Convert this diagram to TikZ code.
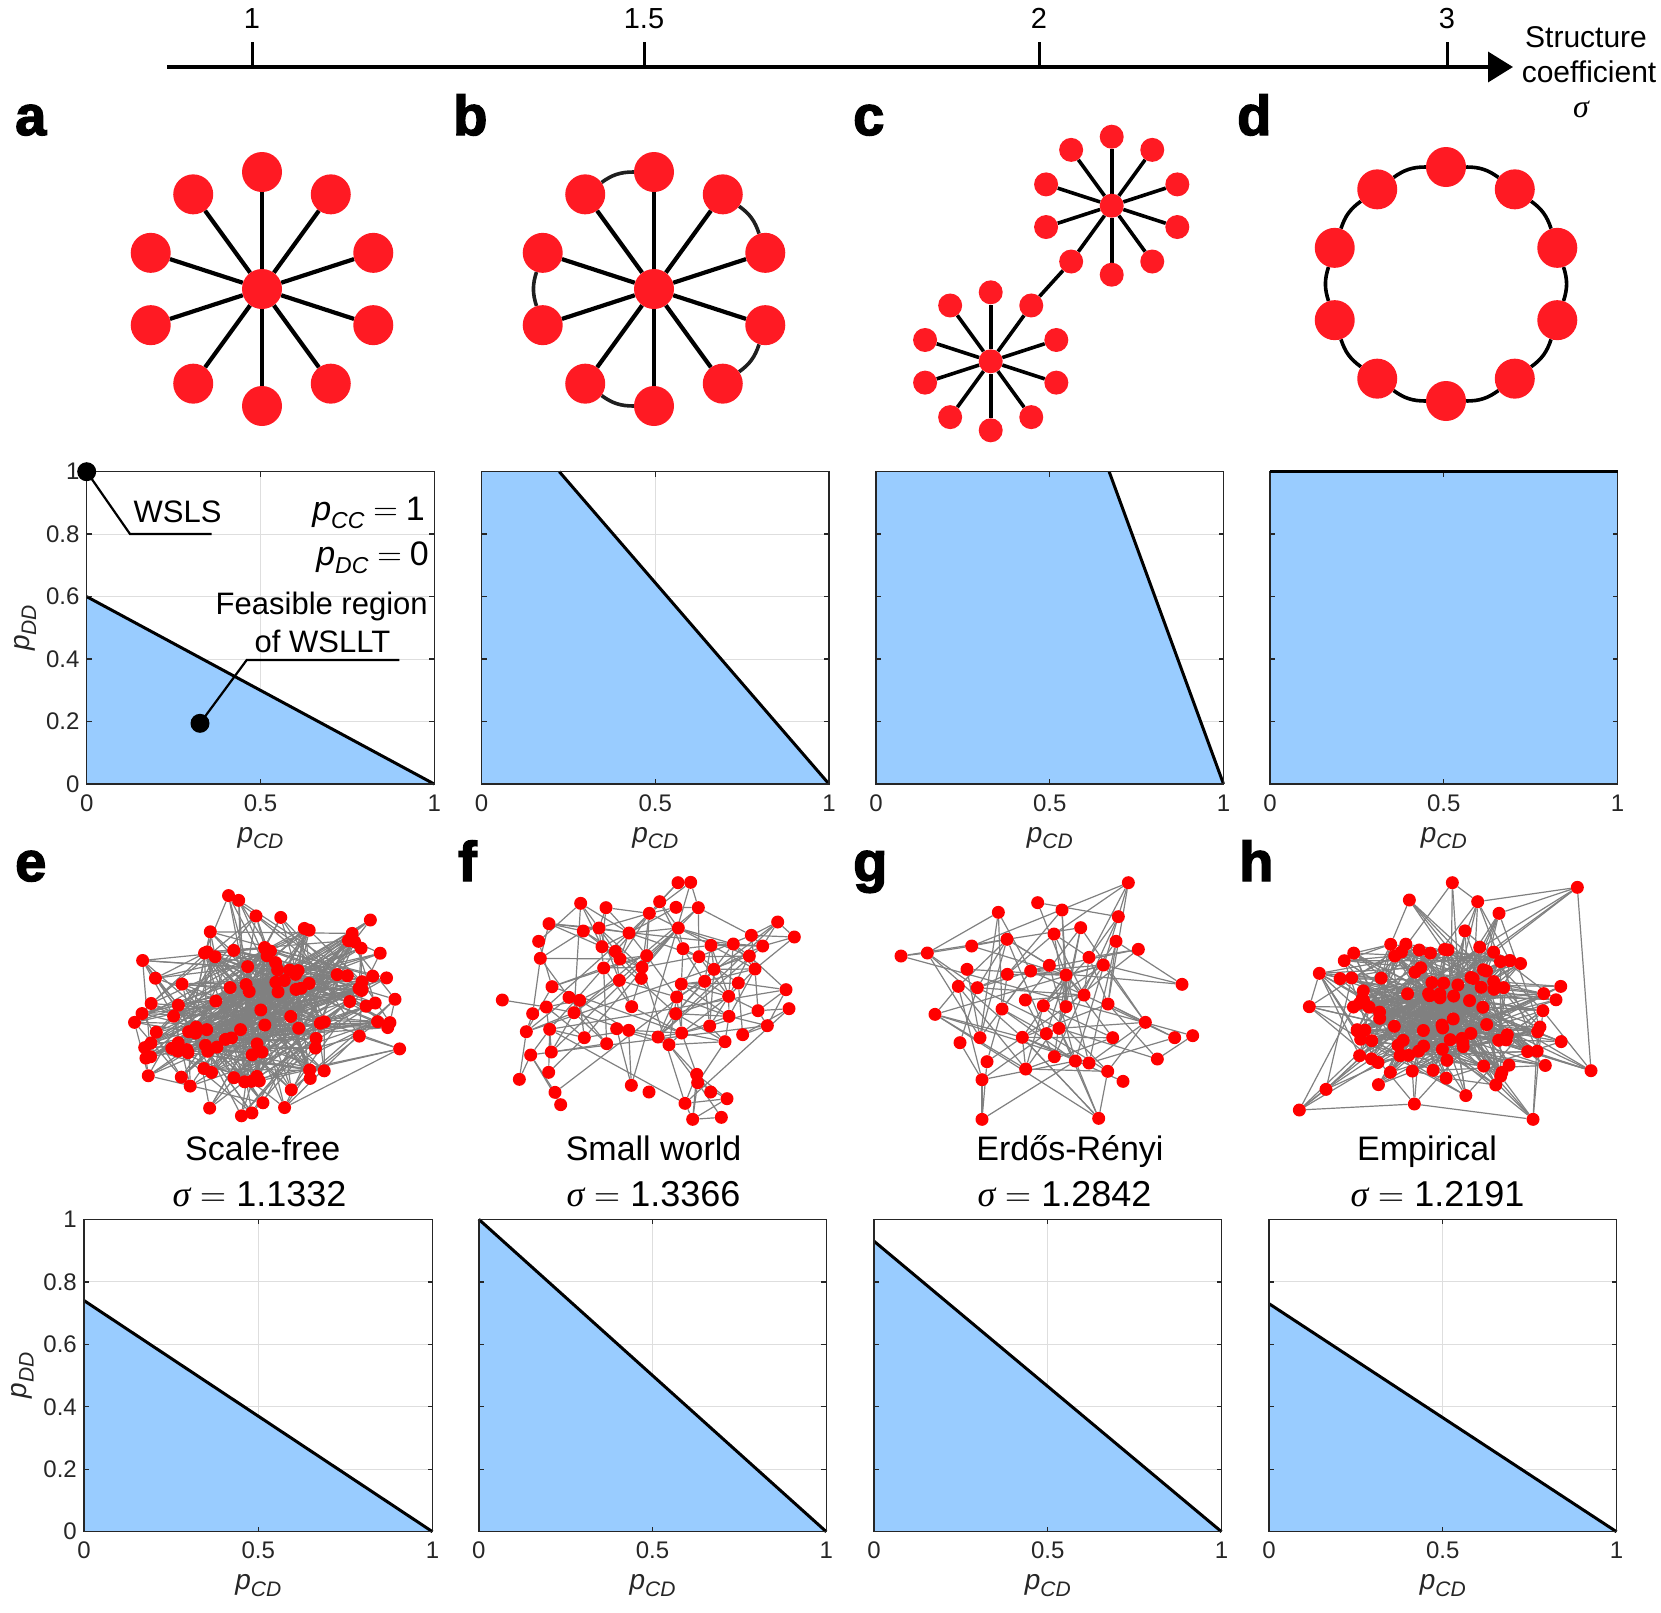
\documentclass[tikz,border=0pt]{standalone}
\usepackage{fontspec}
\setmainfont{Liberation Sans}
\newfontfamily\serifit{Liberation Serif}
\newfontfamily\lmrm{Latin Modern Roman}
\newfontfamily\heavyfont{Liberation Sans Bold}[FakeBold=2.5]
\usetikzlibrary{arrows.meta}
\pgfdeclarelayer{bg}
\pgfsetlayers{bg,main}
\definecolor{topred}{RGB}{255,26,35}
\definecolor{netred}{RGB}{255,0,0}
\definecolor{fillblue}{RGB}{153,204,255}
\definecolor{axgray}{RGB}{38,38,38}
\definecolor{gridgray}{RGB}{222,222,222}
\definecolor{edgegray}{RGB}{128,128,128}
\newcommand\fsz[1]{\fontsize{#1}{#1}\selectfont}
\newcommand\psub[4]{{\fsz{#1}\itshape p\raisebox{-#3pt}{\fsz{#2}#4}}}
\newcommand\eqsign[1]{{\lmrm\fsz{#1}=}}
\newcommand\sig{{\serifit\itshape σ}}
\tikzset{
  bigdot/.style={circle, fill=topred, inner sep=0pt, minimum size=40pt},
  smalldot/.style={circle, fill=topred, inner sep=0pt, minimum size=24pt},
  netdot/.style={circle, fill=netred, inner sep=0pt, minimum size=13pt},
  spoke/.style={line width=4.2pt, black},
  spokec/.style={line width=3.6pt, black},
  ringedge/.style={line width=3.6pt, black!88},
  nedge/.style={line width=1.2pt, edgegray},
  gridc/.style={line width=1.1pt, gridgray},
  framec/.style={line width=1.4pt, axgray},
  fline/.style={line width=3pt, black},
  lead/.style={line width=2.2pt, black},
  bdot/.style={circle, fill=black, inner sep=0pt, minimum size=19pt},
  panel/.style={font=\fsz{56}\heavyfont, inner sep=0pt, anchor=base west},
  lab/.style={inner sep=0pt, anchor=base},
  ticklab/.style={font=\fsz{24}, text=axgray, inner sep=0pt},
}
% ---------- plot helpers ----------
\newcommand\gridlines{%
  \draw[gridc] (0.5,0) -- (0.5,1);
  \foreach \v in {0.2,0.4,0.6,0.8} \draw[gridc] (0,\v) -- (1,\v);}
\newcommand\frameticks{%
  \draw[framec] (0,0) rectangle (1,1);
  \foreach \v in {0.2,0.4,0.6,0.8}{\draw[framec] (0,\v) -- ++(5pt,0pt); \draw[framec] (1,\v) -- ++(-5pt,0pt);}
  \draw[framec] (0.5,0) -- ++(0pt,5pt); \draw[framec] (0.5,1) -- ++(0pt,-5pt);}
\newcommand\xticklabels[1]{\foreach \v [count=\n] in {0,0.5,1} \node[ticklab] (#1x\n) at ([yshift=-19pt]\v,0) {\v};}
\newcommand\yticklabels[1]{\foreach \v [count=\n] in {0,0.2,0.4,0.6,0.8,1} \node[ticklab,anchor=east] (#1y\n) at ([xshift=-7pt]0,\v) {\v};}
\newcommand\xlab[1]{\node[lab,text=axgray] (#1xl) at ([yshift=-58pt]0.5,0) {\psub{28}{21}{6.5}{CD}};}
\newcommand\ylab[1]{\node[lab,rotate=90,text=axgray] (#1yl) at ([xshift=-57pt]0,0.5) {\psub{28}{21}{6.5}{DD}};}
% ---------- network helpers ----------
\newcommand\starnet[6]{%
  \node[#5] (#1c) at (#2,#3) {};
  \foreach \k in {0,...,9} \node[#5] (#1\k) at ([shift={({90-36*\k}:#4pt)}]#2,#3) {};
  \begin{pgfonlayer}{bg}
  \foreach \k in {0,...,9} \draw[#6] (#1c) -- (#1\k);
  \end{pgfonlayer}}
\newcommand\loadnet[4]{%
  \foreach \zx/\zy [count=\n] in {#4}{%
    \pgfmathsetmacro\px{#2+\zx/3}\pgfmathsetmacro\py{#3+\zy/3}%
    \expandafter\xdef\csname #1x\n\endcsname{\px}%
    \expandafter\xdef\csname #1y\n\endcsname{\py}%
    \expandafter\xdef\csname #1N\endcsname{\n}%
    \node[netdot] (#1\n) at (\px,\py) {};}}
\newcommand\distedges[4]{%
  \edef\NN{\csname #1N\endcsname}%
  \begin{pgfonlayer}{bg}
  \foreach \i in {1,...,\NN}{%
    \foreach \j in {\i,...,\NN}{%
      \ifnum\j>\i
        \edef\xa{\csname #1x\i\endcsname}\edef\ya{\csname #1y\i\endcsname}%
        \edef\xb{\csname #1x\j\endcsname}\edef\yb{\csname #1y\j\endcsname}%
        \pgfmathsetmacro\dd{veclen((\xa-\xb)/100,(\ya-\yb)/100)*100}%
        \pgfmathsetmacro\ok{rnd<(\dd<#2?#3:#4)}%
        \ifdim\ok pt>0.5pt
          \draw[nedge] (#1\i) -- (#1\j);%
        \fi
      \fi}}
  \end{pgfonlayer}}
\newcommand\crossedges[6]{%
  \begin{pgfonlayer}{bg}
  \foreach \i in {1,...,#2}{%
    \foreach \j in {1,...,#4}{%
      \edef\xa{\csname #1x\i\endcsname}\edef\ya{\csname #1y\i\endcsname}%
      \edef\xb{\csname #3x\j\endcsname}\edef\yb{\csname #3y\j\endcsname}%
      \pgfmathsetmacro\dd{veclen((\xa-\xb)/100,(\ya-\yb)/100)*100}%
      \pgfmathsetmacro\ok{rnd<(\dd<#5?#6:0)}%
      \ifdim\ok pt>0.5pt
        \draw[nedge] (#1\i) -- (#3\j);%
      \fi}}
  \end{pgfonlayer}}
\newcommand\randnet[8]{%
  \foreach \n in {1,...,#2}{%
    \pgfmathsetmacro\ang{360*rnd}%
    \pgfmathsetmacro\rr{min(1,sqrt(\n/#2)*(0.72+0.4*rnd))}%
    \pgfmathsetmacro\px{#3+#5*\rr*cos(\ang)}%
    \pgfmathsetmacro\py{#4+#6*\rr*sin(\ang)}%
    \expandafter\xdef\csname #1x\n\endcsname{\px}%
    \expandafter\xdef\csname #1y\n\endcsname{\py}%
    \node[netdot] (#1\n) at (\px,\py) {};}
  \begin{pgfonlayer}{bg}
  \foreach \n in {2,...,#2}{%
    \foreach \t in {1,...,#7}{%
      \pgfmathtruncatemacro\jj{1+floor((\n-1)*rnd^#8)}%
      \ifnum\jj<\n \draw[nedge] (#1\n) -- (#1\jj);\fi}}
  \end{pgfonlayer}}

\begin{document}
\begin{tikzpicture}[x=1pt,y=-1pt]
\pgfmathsetseed{2718}
\useasboundingbox (0,0) rectangle (1661,1612);

% ---------- top axis ----------
\coordinate (axL) at (167,67);
\coordinate (axR) at (1513,67);
\draw[line width=3.5pt,-{Triangle[length=25pt,width=30pt]}] (axL) -- (axR);
\foreach \x/\l [count=\n] in {252/1,644/1.5,1039/2,1447/3}{
  \coordinate (tkb\n) at (\x,67); \coordinate (tkt\n) at (\x,42);
  \draw[line width=3pt] (tkb\n) -- (tkt\n);
  \node[lab,font=\fsz{29}] (tkl\n) at (\x,28) {\l};
}
\node[lab,font=\fsz{30}] (st1) at (1586,47) {Structure};
\node[lab,font=\fsz{30}] (st2) at (1589,82) {coefficient};
\node[lab,font=\fsz{32}] (st3) at (1581,117) {\sig};

% ---------- panel letters ----------
\node[panel] (la) at (15,135) {a};
\node[panel] (lb) at (453,135) {b};
\node[panel] (lc) at (853,135) {c};
\node[panel] (ld) at (1237,135) {d};
\node[panel] (le) at (15,881) {e};
\node[panel] (lf) at (458,881) {f};
\node[panel] (lg) at (853,881) {g};
\node[panel] (lh) at (1239,881) {h};

% ---------- top networks ----------
\starnet{a}{262}{289}{117}{bigdot}{spoke}
\starnet{b}{654}{289}{117}{bigdot}{spoke}
\begin{pgfonlayer}{bg}
\draw[ringedge] (b0) to[bend right=18] (b9);
\draw[ringedge] (b2) to[bend right=18] (b1);
\draw[ringedge] (b4) to[bend right=18] (b3);
\draw[ringedge] (b6) to[bend right=18] (b5);
\draw[ringedge] (b8) to[bend right=18] (b7);
\end{pgfonlayer}
\starnet{cu}{1111.7}{205.7}{69}{smalldot}{spokec}
\starnet{cl}{990.7}{361.3}{69}{smalldot}{spokec}
\begin{pgfonlayer}{bg}
\draw[spokec] (cl1) -- (cu6);
\end{pgfonlayer}
\foreach \k in {0,...,9} \node[bigdot] (d\k) at ([shift={({90-36*\k}:117pt)}]1446,284) {};
\begin{pgfonlayer}{bg}
\foreach \k [evaluate=\k as \p using {int(mod(\k+9,10))}] in {0,...,9}
  \draw[ringedge,black] (d\k) to[bend right=18] (d\p);
\end{pgfonlayer}

% ---------- top plots ----------
\begin{scope}[shift={(86.7pt,-784pt)},x=347.5pt,y=312.3pt]
  \gridlines
  \fill[fillblue] (0,0) -- (0,0.6) -- (1,0) -- cycle;
  \draw[fline] (0,0.6) -- (1,0);
  \frameticks \xticklabels{pa} \yticklabels{pa} \xlab{pa} \ylab{pa}
\end{scope}
\begin{scope}[shift={(481.5pt,-784pt)},x=347.5pt,y=312.3pt]
  \gridlines
  \fill[fillblue] (0,0) -- (0,1) -- (0.224,1) -- (1,0) -- cycle;
  \draw[fline] (0.224,1) -- (1,0);
  \frameticks \xticklabels{pb} \xlab{pb}
\end{scope}
\begin{scope}[shift={(876pt,-784pt)},x=347.5pt,y=312.3pt]
  \gridlines
  \fill[fillblue] (0,0) -- (0,1) -- (0.671,1) -- (1,0) -- cycle;
  \draw[fline] (0.671,1) -- (1,0);
  \frameticks \xticklabels{pc} \xlab{pc}
\end{scope}
\begin{scope}[shift={(1270pt,-784pt)},x=347.5pt,y=312.3pt]
  \fill[fillblue] (0,0) rectangle (1,1);
  \frameticks
  \draw[fline] (0,1) -- (1,1);
  \xticklabels{pd} \xlab{pd}
\end{scope}

% annotations panel a
\node[bdot] (wsls) at (86.7,471.7) {};
\coordinate (wk) at (130,534); \coordinate (we) at (211.7,534);
\draw[lead] (wsls.center) -- (wk) -- (we);
\node[lab,font=\fsz{31}] (wslst) at (177.5,522) {WSLS};
\node[lab,anchor=base east] (pcc) at (425,520) {\psub{34}{23}{8}{CC}\hspace{9pt}\eqsign{34}\hspace{8pt}{\fsz{34}1}};
\node[lab,anchor=base east] (pdc) at (429,565) {\psub{34}{23}{8}{DC}\hspace{9pt}\eqsign{34}\hspace{8pt}{\fsz{34}0}};
\node[lab,font=\fsz{31}] (fr1) at (321.7,614) {Feasible region};
\node[lab,font=\fsz{31}] (fr2) at (322.5,652) {of WSLLT};
\node[bdot] (wsllt) at (200,723.3) {};
\coordinate (fk) at (246.7,660); \coordinate (fe) at (399.3,660);
\draw[lead] (wsllt.center) -- (fk) -- (fe);

% ---------- bottom networks ----------
\randnet{e}{112}{263}{1001}{150}{116}{5}{1.5}
\loadnet{f}{480}{860}{594/68, 632/67, 539/125, 302/130, 378/143, 588/142, 655/143, 508/160, 207/191, 893/186, 595/204, 310/213, 357/204, 447/219, 176/244, 814/226, 943/231, 760/252, 693/256, 848/258, 609/266, 366/260, 406/274, 420/297, 500/287, 657/290, 808/288, 181/295, 486/322, 371/324, 702/328, 825/327, 418/361, 484/355, 604/372, 674/364, 775/369, 216/380, 918/389, 67/420, 267/412, 299/421, 590/411, 746/409, 455/440, 199/441, 834/452, 927/446, 158/461, 282/458, 587/461, 747/469, 689/498, 862/497, 139/515, 209/508, 410/506, 446/511, 605/519, 313/533, 534/531, 788/524, 380/551, 567/554, 735/545, 152/585, 214/576, 206/637, 118/658, 650/643, 653/668, 454/676, 507/696, 225/697, 692/696, 242/734, 741/716, 615/730, 638/778, 724/772}
\distedges{f}{60}{0.4}{0.01}
\loadnet{g}{870}{860}{775/68, 503/128, 576/150, 385/157, 745/170, 632/203, 552/222, 411/238, 738/244, 805/268, 305/258, 172/279, 93/288, 657/292, 700/315, 538/316, 291/328, 482/333, 412/343, 588/345, 265/379, 322/383, 936/373, 642/405, 466/420, 714/432, 520/437, 588/440, 396/447, 195/463, 826/487, 567/505, 529/521, 457/532, 330/533, 728/533, 914/533, 968/527, 270/548, 553/590, 616/603, 657/609, 862/597, 351/605, 467/627, 713/634, 759/664, 336/659, 336/778, 686/775}
\distedges{g}{110}{0.18}{0.04}
\begin{pgfonlayer}{bg}
\draw[nedge] (g49) -- (g48); \draw[nedge] (g49) -- (g44); \draw[nedge] (g49) -- (g41);
\draw[nedge] (g50) -- (g41); \draw[nedge] (g50) -- (g46); \draw[nedge] (g50) -- (g34);
\end{pgfonlayer}
\randnet{h}{100}{1447}{1012}{128}{86}{6}{1.6}
\loadnet{ho}{1270}{860}{922/82, 88/750, 963/632, 789/778, 547/68, 418/120, 148/340, 118/440, 687/160, 623/125, 168/688, 433/732, 362/253}
\crossedges{ho}{13}{h}{100}{130}{0.12}
\begin{pgfonlayer}{bg}
\draw[nedge] (ho1) -- (ho9); \draw[nedge] (ho1) -- (ho10); \draw[nedge] (ho1) -- (ho3);
\draw[nedge] (ho5) -- (ho10); \draw[nedge] (ho6) -- (ho13); \draw[nedge] (ho2) -- (ho11);
\draw[nedge] (ho2) -- (ho12); \draw[nedge] (ho4) -- (ho12); \draw[nedge] (ho7) -- (ho8);
\foreach \i in {1,...,13}{
  \foreach \t in {1,2}{
    \pgfmathtruncatemacro\jj{1+floor(25*rnd)}
    \draw[nedge] (ho\i) -- (h\jj);}}
\end{pgfonlayer}

% ---------- bottom labels ----------
\node[lab,font=\fsz{34}] (nm1) at (262.7,1160) {Scale-free};
\node[lab,font=\fsz{36}] (sg1) at (259.5,1206) {\sig\hspace{10pt}\eqsign{36}\hspace{10pt}1.1332};
\node[lab,font=\fsz{34}] (nm2) at (653.6,1160) {Small world};
\node[lab,font=\fsz{36}] (sg2) at (653.6,1206) {\sig\hspace{10pt}\eqsign{36}\hspace{10pt}1.3366};
\node[lab,font=\fsz{34}] (nm3) at (1070,1160) {Erdős-Rényi};
\node[lab,font=\fsz{36}] (sg3) at (1064.6,1206) {\sig\hspace{10pt}\eqsign{36}\hspace{10pt}1.2842};
\node[lab,font=\fsz{34}] (nm4) at (1427,1160) {Empirical};
\node[lab,font=\fsz{36}] (sg4) at (1437.5,1206) {\sig\hspace{10pt}\eqsign{36}\hspace{10pt}1.2191};

% ---------- bottom plots ----------
\begin{scope}[shift={(84pt,-1531.7pt)},x=348.5pt,y=312.4pt]
  \gridlines
  \fill[fillblue] (0,0) -- (0,0.74) -- (1,0) -- cycle;
  \draw[fline] (0,0.74) -- (1,0);
  \frameticks \xticklabels{pe} \yticklabels{pe} \xlab{pe} \ylab{pe}
\end{scope}
\begin{scope}[shift={(478.8pt,-1531.7pt)},x=347.5pt,y=312.4pt]
  \gridlines
  \fill[fillblue] (0,0) -- (0,1) -- (1,0) -- cycle;
  \draw[fline] (0,1) -- (1,0);
  \frameticks \xticklabels{pf} \xlab{pf}
\end{scope}
\begin{scope}[shift={(874pt,-1531.7pt)},x=347.5pt,y=312.4pt]
  \gridlines
  \fill[fillblue] (0,0) -- (0,0.93) -- (1,0) -- cycle;
  \draw[fline] (0,0.93) -- (1,0);
  \frameticks \xticklabels{pg} \xlab{pg}
\end{scope}
\begin{scope}[shift={(1269pt,-1531.7pt)},x=347.5pt,y=312.4pt]
  \gridlines
  \fill[fillblue] (0,0) -- (0,0.73) -- (1,0) -- cycle;
  \draw[fline] (0,0.73) -- (1,0);
  \frameticks \xticklabels{ph} \xlab{ph}
\end{scope}
\end{tikzpicture}
\end{document}
